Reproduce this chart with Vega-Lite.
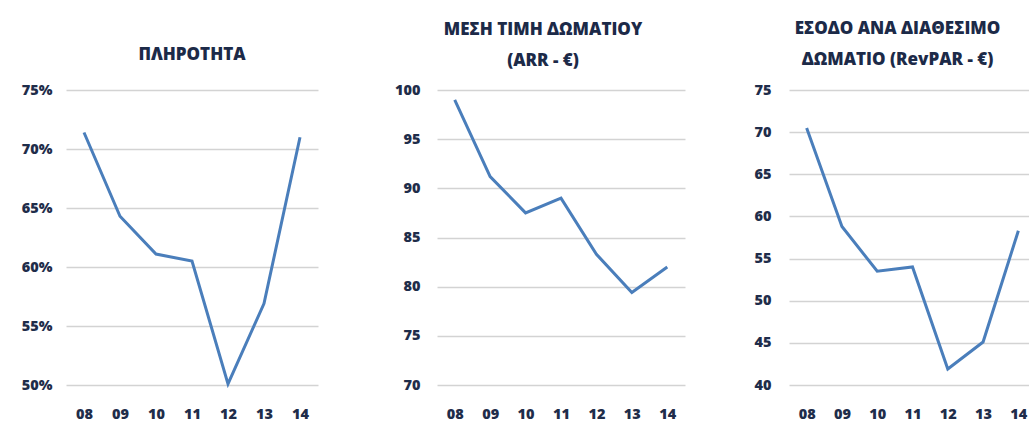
{
  "$schema": "https://vega.github.io/schema/vega-lite/v6.json",
  "autosize": {"type": "pad"},
  "padding": {"left": 21, "top": 20, "right": 0, "bottom": 0},
  "background": "white",
  "data": {"values": [
    {"yr": "08", "occ": 0.714, "arr": 99.0, "revpar": 70.5},
    {"yr": "09", "occ": 0.643, "arr": 91.2, "revpar": 58.8},
    {"yr": "10", "occ": 0.611, "arr": 87.5, "revpar": 53.5},
    {"yr": "11", "occ": 0.605, "arr": 89.0, "revpar": 54.0},
    {"yr": "12", "occ": 0.501, "arr": 83.3, "revpar": 41.9},
    {"yr": "13", "occ": 0.569, "arr": 79.4, "revpar": 45.1},
    {"yr": "14", "occ": 0.710, "arr": 82.0, "revpar": 58.3}
  ]},
  "config": {
    "view": {"stroke": null},
    "axis": {
      "domain": false, "ticks": false, "title": null,
      "gridColor": "#d3d3d3", "gridWidth": 1.6,
      "labelFont": "Open Sans", "labelFontWeight": 800, "labelFontSize": 14.5, "labelColor": "#1f2d4a"
    },
    "axisX": {"labelPadding": 22, "labelAngle": 0, "grid": false},
    "axisY": {"labelPadding": 14},
    "title": {"font": "Open Sans", "fontWeight": 800, "fontSize": 17, "color": "#1c2a48", "lineHeight": 31, "anchor": "middle"},
    "line": {"color": "#4a7ebb", "strokeWidth": 3}
  },
  "bounds": "flush",
  "spacing": 119,
  "hconcat": [
    {
      "width": 252, "height": 295,
      "title": {"text": "ΠΛΗΡΟΤΗΤΑ", "offset": 18},
      "mark": {"type": "line"},
      "encoding": {
        "x": {"field": "yr", "type": "ordinal", "sort": null, "scale": {"type": "point", "padding": 0.5}},
        "y": {"field": "occ", "type": "quantitative", "scale": {"domain": [0.5, 0.75]},
              "axis": {"format": ".0%", "values": [0.5, 0.55, 0.6, 0.65, 0.7, 0.75]}}
      }
    },
    {
      "bounds": "flush",
      "spacing": 104,
      "hconcat": [
        {
          "width": 248, "height": 295,
          "title": {"text": ["ΜΕΣΗ ΤΙΜΗ ΔΩΜΑΤΙΟΥ", "(ARR - €)"], "offset": 12, "dx": -18},
          "mark": {"type": "line"},
          "encoding": {
            "x": {"field": "yr", "type": "ordinal", "sort": null, "scale": {"type": "point", "padding": 0.5}},
            "y": {"field": "arr", "type": "quantitative", "scale": {"domain": [70, 100]},
                  "axis": {"values": [70, 75, 80, 85, 90, 95, 100], "labelPadding": 17}}
          }
        },
        {
          "width": 247, "height": 295,
          "title": {"text": ["ΕΣΟΔΟ ΑΝΑ ΔΙΑΘΕΣΙΜΟ", "ΔΩΜΑΤΙΟ (RevPAR - €)"], "offset": 13, "dx": -15},
          "mark": {"type": "line"},
          "encoding": {
            "x": {"field": "yr", "type": "ordinal", "sort": null, "scale": {"type": "point", "padding": 0.5}},
            "y": {"field": "revpar", "type": "quantitative", "scale": {"domain": [40, 75]},
                  "axis": {"values": [40, 45, 50, 55, 60, 65, 70, 75], "labelPadding": 18}}
          }
        }
      ]
    }
  ]
}
